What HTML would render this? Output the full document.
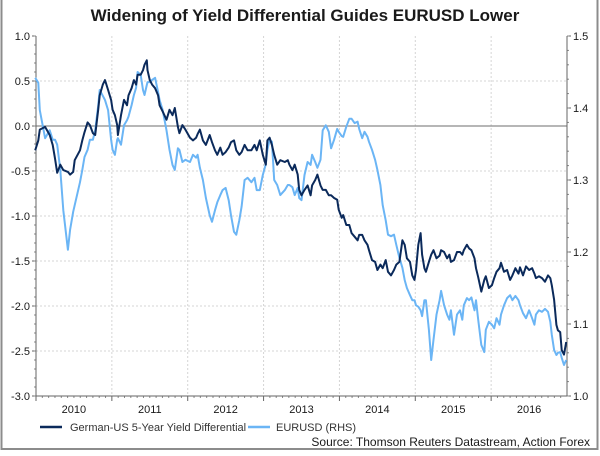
<!DOCTYPE html>
<html><head><meta charset="utf-8"><style>
body{margin:0;background:#fff;}
svg text{font-family:"Liberation Sans",Arial,sans-serif;}
</style></head><body>
<svg width="600" height="451" viewBox="0 0 600 451" xmlns="http://www.w3.org/2000/svg">
<rect x="1.5" y="-5" width="596" height="454" fill="#fff" stroke="#8c8c8c" stroke-width="2"/>
<text x="305" y="21" text-anchor="middle" font-size="17" font-weight="bold" fill="#1a1a1a">Widening of Yield Differential Guides EURUSD Lower</text>
<g id="grid"></g><g id="axes"></g><g id="series"></g>
<g>
<line x1="40" y1="427" x2="62" y2="427" stroke="#0b2a5b" stroke-width="2.5"/>
<text x="70" y="431" font-size="11" fill="#333">German-US 5-Year Yield Differential</text>
<line x1="248" y1="427" x2="270" y2="427" stroke="#6bb5f5" stroke-width="2.5"/>
<text x="276" y="431" font-size="11" fill="#333">EURUSD (RHS)</text>
</g>
<text x="590" y="446" text-anchor="end" font-size="12" fill="#1a1a1a">Source: Thomson Reuters Datastream, Action Forex</text>
</svg>
<script>
const dates=[2009.99,2010.03,2010.05,2010.12,2010.18,2010.22,2010.25,2010.28,2010.32,2010.36,2010.42,2010.45,2010.49,2010.51,2010.58,2010.61,2010.64,2010.68,2010.71,2010.75,2010.78,2010.82,2010.84,2010.88,2010.91,2010.95,2010.99,2011.01,2011.04,2011.07,2011.08,2011.12,2011.16,2011.20,2011.22,2011.26,2011.29,2011.32,2011.34,2011.38,2011.41,2011.43,2011.46,2011.47,2011.50,2011.53,2011.57,2011.61,2011.63,2011.67,2011.72,2011.76,2011.80,2011.83,2011.87,2011.89,2011.93,2011.97,2012.03,2012.07,2012.11,2012.13,2012.16,2012.20,2012.24,2012.29,2012.32,2012.36,2012.39,2012.43,2012.46,2012.50,2012.54,2012.57,2012.61,2012.64,2012.68,2012.71,2012.75,2012.79,2012.84,2012.88,2012.91,2012.95,2012.99,2013.03,2013.05,2013.08,2013.11,2013.14,2013.18,2013.22,2013.28,2013.32,2013.34,2013.38,2013.41,2013.45,2013.47,2013.50,2013.54,2013.58,2013.62,2013.64,2013.68,2013.71,2013.75,2013.78,2013.82,2013.86,2013.89,2013.93,2013.97,2013.99,2014.03,2014.05,2014.09,2014.13,2014.16,2014.20,2014.24,2014.26,2014.30,2014.33,2014.37,2014.39,2014.43,2014.47,2014.50,2014.54,2014.57,2014.61,2014.64,2014.68,2014.72,2014.75,2014.79,2014.83,2014.86,2014.89,2014.93,2014.96,2014.99,2015.01,2015.04,2015.07,2015.09,2015.12,2015.14,2015.18,2015.21,2015.24,2015.28,2015.32,2015.34,2015.38,2015.42,2015.45,2015.47,2015.51,2015.55,2015.59,2015.62,2015.64,2015.68,2015.71,2015.74,2015.78,2015.80,2015.83,2015.87,2015.91,2015.93,2015.97,2016.01,2016.04,2016.07,2016.11,2016.13,2016.17,2016.21,2016.25,2016.28,2016.32,2016.36,2016.38,2016.42,2016.46,2016.50,2016.54,2016.57,2016.59,2016.63,2016.67,2016.71,2016.75,2016.78,2016.80,2016.83,2016.86,2016.88,2016.91,2016.93,2016.96,2016.99,2017.00];
const yieldDiff=[-0.27,-0.16,-0.04,-0.01,-0.10,-0.21,-0.36,-0.52,-0.43,-0.49,-0.51,-0.54,-0.51,-0.38,-0.27,-0.16,-0.07,0.04,0.01,-0.08,-0.10,0.18,0.34,0.46,0.51,0.40,0.29,0.18,0.12,0.01,-0.10,0.12,0.29,0.23,0.34,0.42,0.51,0.46,0.57,0.57,0.62,0.68,0.73,0.62,0.51,0.46,0.42,0.34,0.23,0.16,0.07,0.18,0.12,0.20,-0.01,-0.08,0.01,-0.04,-0.13,-0.16,-0.13,-0.09,-0.04,-0.16,-0.21,-0.10,-0.18,-0.27,-0.32,-0.24,-0.32,-0.29,-0.24,-0.18,-0.16,-0.27,-0.32,-0.29,-0.21,-0.27,-0.27,-0.21,-0.27,-0.16,-0.32,-0.43,-0.16,-0.13,-0.21,-0.32,-0.43,-0.38,-0.40,-0.38,-0.43,-0.49,-0.43,-0.54,-0.71,-0.77,-0.71,-0.66,-0.77,-0.66,-0.60,-0.54,-0.66,-0.71,-0.71,-0.77,-0.77,-0.80,-0.82,-0.93,-1.02,-0.99,-1.10,-1.10,-1.19,-1.23,-1.27,-1.21,-1.21,-1.27,-1.32,-1.38,-1.49,-1.51,-1.60,-1.54,-1.58,-1.49,-1.62,-1.66,-1.60,-1.54,-1.51,-1.27,-1.32,-1.47,-1.51,-1.66,-1.71,-1.60,-1.32,-1.19,-1.43,-1.58,-1.62,-1.51,-1.43,-1.38,-1.47,-1.44,-1.38,-1.40,-1.47,-1.43,-1.51,-1.49,-1.40,-1.40,-1.43,-1.38,-1.32,-1.36,-1.38,-1.47,-1.58,-1.68,-1.84,-1.71,-1.67,-1.80,-1.77,-1.69,-1.62,-1.58,-1.52,-1.62,-1.60,-1.71,-1.66,-1.58,-1.64,-1.57,-1.66,-1.56,-1.60,-1.58,-1.64,-1.69,-1.67,-1.69,-1.73,-1.66,-1.69,-1.77,-1.93,-2.21,-2.27,-2.29,-2.49,-2.54,-2.40];
const eurusd=[1.442,1.435,1.397,1.358,1.369,1.356,1.356,1.349,1.314,1.258,1.203,1.231,1.256,1.265,1.297,1.314,1.332,1.342,1.356,1.356,1.369,1.403,1.425,1.417,1.411,1.397,1.356,1.342,1.335,1.356,1.358,1.349,1.376,1.383,1.388,1.404,1.418,1.428,1.450,1.446,1.425,1.418,1.432,1.436,1.436,1.439,1.442,1.422,1.411,1.397,1.369,1.342,1.321,1.314,1.344,1.342,1.325,1.328,1.325,1.335,1.331,1.335,1.317,1.300,1.275,1.251,1.242,1.258,1.269,1.279,1.286,1.289,1.272,1.251,1.228,1.224,1.244,1.263,1.300,1.303,1.297,1.303,1.286,1.286,1.307,1.322,1.342,1.356,1.353,1.300,1.293,1.279,1.286,1.293,1.293,1.290,1.279,1.289,1.275,1.272,1.307,1.325,1.321,1.335,1.325,1.317,1.328,1.369,1.376,1.367,1.344,1.356,1.371,1.367,1.361,1.360,1.374,1.385,1.385,1.379,1.381,1.371,1.358,1.367,1.360,1.353,1.342,1.328,1.314,1.293,1.265,1.244,1.224,1.222,1.224,1.210,1.192,1.178,1.161,1.150,1.140,1.133,1.133,1.126,1.124,1.119,1.111,1.133,1.133,1.092,1.050,1.078,1.113,1.133,1.146,1.126,1.113,1.106,1.119,1.085,1.113,1.119,1.106,1.126,1.136,1.133,1.137,1.119,1.133,1.106,1.071,1.061,1.092,1.103,1.099,1.094,1.108,1.099,1.113,1.126,1.136,1.140,1.133,1.139,1.133,1.126,1.115,1.108,1.119,1.108,1.099,1.113,1.119,1.117,1.121,1.117,1.103,1.085,1.064,1.057,1.060,1.061,1.053,1.043,1.050,1.053];
const leftTicks=[1.0,0.5,0.0,-0.5,-1.0,-1.5,-2.0,-2.5,-3.0];
const rightTicks=[1.5,1.4,1.3,1.2,1.1,1.0];
const years=[2010,2011,2012,2013,2014,2015,2016];

const NS='http://www.w3.org/2000/svg';
const L=36,R=567,T=36,B=396;
const xS=t=>L+(t-2010)*(R-L)/7;
const yL=v=>T+(1-v)*(B-T)/4;
const yR=v=>T+(1.5-v)*(B-T)/0.5;
function mk(tag,attrs,parent,txt){const e=document.createElementNS(NS,tag);for(const k in attrs)e.setAttribute(k,attrs[k]);if(txt!==undefined)e.textContent=txt;parent.appendChild(e);return e;}
const grid=document.getElementById('grid'),axes=document.getElementById('axes'),ser=document.getElementById('series');

leftTicks.forEach(v=>{
  const y=yL(v);
  if(v!==1&&v!==-3&&v!==0){const g=mk('line',{x1:L,x2:R,y1:y,y2:y,stroke:'#d4d4d4','stroke-dasharray':'2,2'},grid);
  
  }
  const t=mk('text',{x:30,y:y+4,'text-anchor':'end','font-size':11,fill:'#1a1a1a'},axes,v.toFixed(1));
  
  
  mk('line',{x1:L-4,x2:L,y1:y,y2:y,stroke:'#666'},axes);
});
for(let v=-3;v<=1.001;v+=0.1){mk('line',{x1:L-2,x2:L,y1:yL(v),y2:yL(v),stroke:'#888'},axes);}
rightTicks.forEach(v=>{
  const y=yR(v);
  const t=mk('text',{x:573,y:y+4,'font-size':11,fill:'#1a1a1a'},axes,v.toFixed(1));
  
  
  mk('line',{x1:R,x2:R+4,y1:y,y2:y,stroke:'#666'},axes);
});
for(let v=1.0;v<=1.5001;v+=0.02){mk('line',{x1:R,x2:R+2,y1:yR(v),y2:yR(v),stroke:'#888'},axes);}
years.forEach(yr=>{
  const x=xS(yr);
  if(yr>2010){const g=mk('line',{x1:x,x2:x,y1:T,y2:B,stroke:'#d4d4d4','stroke-dasharray':'2,2'},grid);
  
  }
  mk('line',{x1:x,x2:x,y1:B,y2:B+5,stroke:'#666'},axes);
  for(let m=1;m<12;m++){const xm=xS(yr+m/12);mk('line',{x1:xm,x2:xm,y1:B,y2:B+2,stroke:'#888'},axes);}
  const t=mk('text',{x:xS(yr+0.5),y:413,'text-anchor':'middle','font-size':11,fill:'#1a1a1a'},axes,String(yr));
  
  
});
const zl=mk('line',{x1:L,x2:R,y1:yL(0),y2:yL(0),stroke:'#8a8a8a','stroke-width':1.2},grid);


const ax1=mk('line',{x1:L,x2:L,y1:T,y2:B,stroke:'#666'},axes);


const ax2=mk('line',{x1:R,x2:R,y1:T,y2:B,stroke:'#666'},axes);


const ax3=mk('line',{x1:L,x2:R,y1:B,y2:B,stroke:'#666'},axes);



const n=Math.min(dates.length,yieldDiff.length,eurusd.length);
let p1='',p2='';
for(let i=0;i<n;i++){const x=xS(dates[i]).toFixed(1);p1+=(i?'L':'M')+x+','+yL(yieldDiff[i]).toFixed(1);p2+=(i?'L':'M')+x+','+yR(eurusd[i]).toFixed(1);}
const s2=mk('path',{d:p2,fill:'none',stroke:'#6bb5f5','stroke-width':2,'stroke-linejoin':'round'},ser);


const s1=mk('path',{d:p1,fill:'none',stroke:'#0b2a5b','stroke-width':2,'stroke-linejoin':'round'},ser);


</script>
</body></html>
